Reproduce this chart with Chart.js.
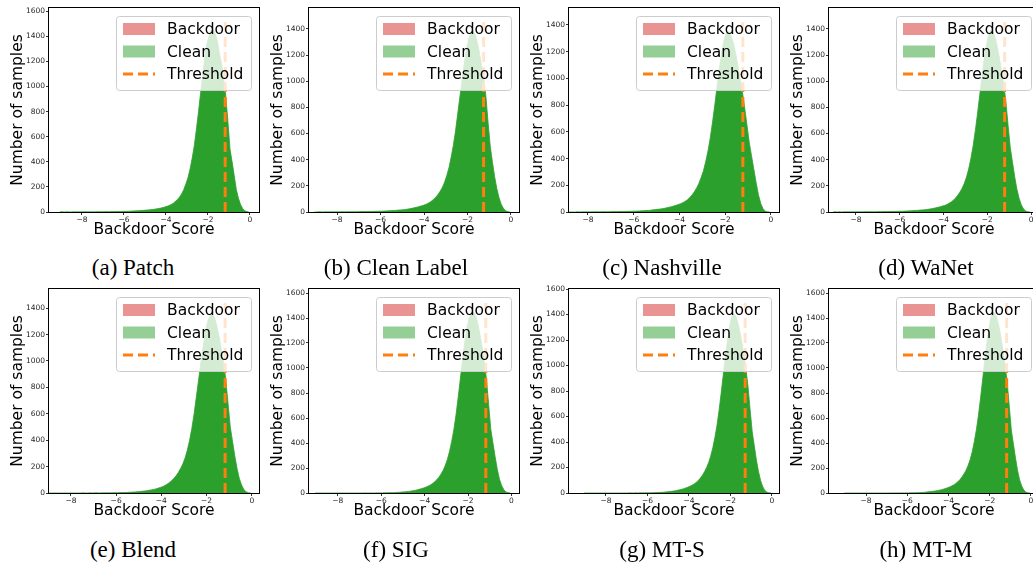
<!DOCTYPE html>
<html lang="en">
<head>
<meta charset="UTF-8">
<title>Backdoor score histograms</title>
<style>
    html, body {
        margin: 0;
        padding: 0;
        background: #ffffff;
        overflow: hidden;
    }
    body {
        width: 1033px;
        height: 568px;
        position: relative;
    }
    .panel {
        position: absolute;
        width: 263px;
        height: 242px;
    }
    .caption {
        position: absolute;
        font-family: 'Liberation Serif', 'Times New Roman', serif;
        font-size: 23px;
        line-height: 23px;
        color: #000;
        white-space: nowrap;
        transform: translateX(-50%);
    }
</style>
</head>
<body>
<div id="figure"></div>

<script src="https://cdn.jsdelivr.net/npm/chart.js"></script>
<script>
// bin centres of the histograms (bin width 0.1)
const binCenters = [
    -9.05, -8.95, -8.85, -8.75, -8.65, -8.55, -8.45, -8.35, -8.25, -8.15,
    -8.05, -7.95, -7.85, -7.75, -7.65, -7.55, -7.45, -7.35, -7.25, -7.15,
    -7.05, -6.95, -6.85, -6.75, -6.65, -6.55, -6.45, -6.35, -6.25, -6.15,
    -6.05, -5.95, -5.85, -5.75, -5.65, -5.55, -5.45, -5.35, -5.25, -5.15,
    -5.05, -4.95, -4.85, -4.75, -4.65, -4.55, -4.45, -4.35, -4.25, -4.15,
    -4.05, -3.95, -3.85, -3.75, -3.65, -3.55, -3.45, -3.35, -3.25, -3.15,
    -3.05, -2.95, -2.85, -2.75, -2.65, -2.55, -2.45, -2.35, -2.25, -2.15,
    -2.05, -1.95, -1.85, -1.75, -1.65, -1.55, -1.45, -1.35, -1.25, -1.15,
    -1.05, -0.95, -0.85, -0.75, -0.65, -0.55, -0.45, -0.35, -0.25, -0.15,
    -0.05
];

// clean sample counts per bin, one list per attack
const patchCounts = [
    1, 1, 0, 1, 1, 0, 1, 1, 1, 1,
    1, 1, 2, 1, 1, 2, 1, 2, 2, 2,
    2, 2, 3, 2, 3, 3, 3, 4, 4, 4,
    5, 5, 6, 6, 7, 8, 9, 10, 11, 12,
    13, 15, 16, 18, 20, 22, 25, 28, 31, 35,
    40, 45, 52, 60, 70, 85, 100, 120, 145, 180,
    225, 275, 345, 430, 530, 660, 800, 950, 1090, 1230,
    1340, 1400, 1445, 1460, 1420, 1360, 1260, 1180, 1060, 920,
    720, 500, 400, 290, 180, 110, 60, 28, 10, 3,
    0
];
const cleanLabelCounts = [
    0, 0, 1, 1, 0, 1, 1, 1, 1, 1,
    1, 1, 1, 2, 1, 2, 2, 2, 2, 2,
    2, 3, 3, 3, 3, 4, 4, 4, 5, 5,
    6, 6, 7, 8, 9, 10, 11, 12, 13, 15,
    16, 18, 20, 22, 25, 28, 32, 36, 40, 45,
    50, 56, 64, 72, 84, 98, 115, 135, 160, 190,
    230, 280, 340, 420, 510, 620, 750, 880, 1010, 1130,
    1240, 1320, 1370, 1390, 1360, 1300, 1220, 1120, 1020, 880,
    680, 500, 380, 270, 180, 110, 60, 28, 10, 3,
    0
];
const nashvilleCounts = [
    0, 0, 0, 0, 0, 0, 1, 0, 1, 1,
    1, 1, 1, 1, 2, 1, 2, 2, 2, 2,
    2, 3, 3, 3, 3, 4, 4, 4, 5, 5,
    6, 6, 7, 8, 9, 10, 11, 12, 14, 16,
    18, 20, 22, 25, 28, 32, 36, 40, 45, 50,
    56, 62, 70, 80, 92, 108, 128, 152, 180, 215,
    260, 310, 380, 460, 560, 680, 810, 950, 1080, 1200,
    1290, 1340, 1350, 1320, 1270, 1190, 1100, 1000, 900, 780,
    650, 520, 420, 320, 220, 130, 65, 25, 6, 1,
    0
];
const wanetCounts = [
    0, 1, 0, 1, 0, 1, 1, 1, 1, 1,
    1, 1, 1, 2, 1, 2, 2, 2, 2, 2,
    2, 3, 2, 3, 3, 3, 4, 4, 4, 5,
    5, 6, 6, 7, 8, 9, 10, 11, 12, 13,
    15, 16, 18, 20, 22, 25, 28, 32, 36, 40,
    45, 50, 57, 66, 77, 90, 107, 128, 152, 182,
    220, 268, 330, 410, 505, 620, 750, 890, 1030, 1160,
    1270, 1350, 1390, 1380, 1340, 1270, 1180, 1080, 980, 840,
    660, 490, 380, 270, 175, 105, 55, 24, 8, 2,
    0
];
const blendCounts = [
    0, 0, 0, 0, 0, 0, 0, 0, 0, 0,
    0, 0, 0, 0, 0, 0, 1, 0, 0, 1,
    0, 1, 1, 0, 1, 1, 1, 1, 1, 2,
    2, 2, 3, 3, 4, 4, 5, 6, 7, 8,
    10, 11, 13, 15, 17, 20, 23, 27, 31, 36,
    42, 48, 56, 66, 78, 92, 110, 130, 155, 185,
    220, 265, 325, 400, 490, 600, 730, 860, 990, 1110,
    1220, 1300, 1340, 1360, 1330, 1270, 1190, 1090, 990, 860,
    680, 500, 390, 280, 185, 110, 60, 26, 9, 2,
    0
];
const sigCounts = [
    0, 0, 0, 0, 0, 0, 0, 0, 0, 0,
    0, 0, 0, 0, 0, 0, 0, 0, 0, 0,
    0, 0, 0, 1, 0, 0, 1, 0, 1, 1,
    1, 1, 2, 2, 2, 3, 3, 4, 5, 6,
    8, 9, 11, 13, 15, 18, 21, 25, 30, 35,
    40, 46, 54, 63, 74, 88, 105, 125, 150, 180,
    220, 270, 335, 415, 510, 630, 770, 920, 1070, 1210,
    1320, 1400, 1440, 1450, 1420, 1360, 1270, 1170, 1050, 910,
    710, 510, 400, 290, 190, 110, 60, 26, 9, 2,
    0
];
const mtsCounts = [
    0, 0, 0, 0, 0, 0, 0, 0, 0, 0,
    0, 0, 0, 0, 0, 0, 0, 0, 0, 0,
    0, 0, 1, 0, 0, 1, 0, 1, 1, 1,
    1, 1, 2, 2, 3, 3, 4, 5, 6, 7,
    9, 11, 13, 15, 18, 21, 25, 29, 34, 40,
    46, 53, 61, 71, 83, 98, 117, 140, 167, 200,
    240, 290, 355, 435, 530, 645, 780, 920, 1060, 1190,
    1300, 1380, 1410, 1390, 1340, 1270, 1180, 1080, 970, 830,
    650, 480, 370, 260, 170, 100, 52, 22, 7, 1,
    0
];
const mtmCounts = [
    0, 0, 0, 0, 0, 0, 0, 0, 0, 0,
    0, 0, 0, 0, 0, 0, 0, 0, 0, 0,
    0, 0, 0, 1, 0, 1, 0, 1, 1, 1,
    1, 1, 2, 2, 2, 3, 3, 4, 5, 6,
    8, 10, 12, 14, 16, 19, 22, 26, 31, 36,
    42, 48, 56, 65, 76, 90, 107, 128, 153, 183,
    220, 268, 330, 410, 505, 620, 755, 900, 1050, 1190,
    1310, 1400, 1450, 1440, 1400, 1330, 1240, 1130, 1020, 880,
    690, 500, 390, 280, 180, 105, 56, 24, 8, 2,
    0
];

const panelCounts = [patchCounts, cleanLabelCounts, nashvilleCounts, wanetCounts,
                     blendCounts, sigCounts, mtsCounts, mtmCounts];
const panelCaptions = ['(a) Patch', '(b) Clean Label', '(c) Nashville', '(d) WaNet',
                       '(e) Blend', '(f) SIG', '(g) MT-S', '(h) MT-M'];
const thresholds = [-1.18, -1.26, -1.23, -1.21, -1.18, -1.18, -1.29, -1.18];
// the dashed threshold segment runs from 0 up to this count
const thresholdTops = [1548, 1486, 1454, 1486, 1471, 1554, 1524, 1554];

// axis limits and ticks
const xMins = [-9.57, -9.29, -8.83, -9.23, -8.97, -9.33, -9.78, -9.80];
const xMaxs = [0.43, 0.37, 0.35, 0.36, 0.32, 0.35, 0.34, 0.39];
const yMaxs = [1625, 1560, 1527, 1560, 1545, 1632, 1600, 1632];
const xTickValues = [-8, -6, -4, -2, 0];
const yTickValues = [0, 200, 400, 600, 800, 1000, 1200, 1400, 1600];

const legendLabels = ['Backdoor', 'Clean', 'Threshold'];
const xTitle = 'Backdoor Score';
const yTitle = 'Number of samples';

// colours
const backdoorPatch = 'rgba(214,39,40,0.5)';
const cleanPatch = 'rgba(44,160,44,0.5)';
const cleanFill = '#2ca02c';
const thresholdColor = '#ff7f0e';

// layout of the 2 x 4 grid
const colLefts = [0, 260, 520, 780];
const rowTops = [0, 281];
const captionCenters = [133, 396, 662, 926];
const captionTops = [256, 538];

const fontSans = "'DejaVu Sans', sans-serif";

function fmtTick(v) {
    return v < 0 ? '\u2212' + Math.abs(v) : String(v);
}

const legendItems = [
    { label: legendLabels[0], kind: 'patch', color: backdoorPatch },
    { label: legendLabels[1], kind: 'patch', color: cleanPatch },
    { label: legendLabels[2], kind: 'dash', color: thresholdColor }
];

// legend drawn inside the plot, over the histogram (like matplotlib "upper right")
const insideLegend = {
    id: 'insideLegend',
    afterDatasetsDraw(chart) {
        const ctx = chart.ctx;
        const area = chart.chartArea;
        const w = 135, h = 74;
        const x = area.right - 8 - w;
        const y = area.top + 8;
        ctx.save();
        ctx.beginPath();
        ctx.roundRect(x + 0.5, y + 0.5, w, h, 3);
        ctx.fillStyle = 'rgba(255,255,255,0.8)';
        ctx.fill();
        ctx.strokeStyle = '#cccccc';
        ctx.lineWidth = 1;
        ctx.stroke();

        legendItems.forEach((item, i) => {
            const cy = y + 13 + i * 22.5;
            if (item.kind === 'dash') {
                ctx.beginPath();
                ctx.setLineDash([10, 5]);
                ctx.strokeStyle = item.color;
                ctx.lineWidth = 3;
                ctx.moveTo(x + 7, cy);
                ctx.lineTo(x + 39, cy);
                ctx.stroke();
                ctx.setLineDash([]);
            } else {
                ctx.fillStyle = item.color;
                ctx.fillRect(x + 7, cy - 6, 32, 12);
            }
            ctx.fillStyle = '#000';
            ctx.font = '15.5px ' + fontSans;
            ctx.textBaseline = 'middle';
            ctx.textAlign = 'left';
            ctx.fillText(item.label, x + 51, cy + 1);
        });
        ctx.restore();
    }
};

// full box of spines
const axesBox = {
    id: 'axesBox',
    afterDraw(chart) {
        const ctx = chart.ctx;
        const a = chart.chartArea;
        ctx.save();
        ctx.strokeStyle = '#000';
        ctx.lineWidth = 1;
        ctx.strokeRect(Math.round(a.left) - 0.5, Math.round(a.top) - 0.5,
                       Math.round(a.right - a.left) + 1, Math.round(a.bottom - a.top) + 1);
        ctx.restore();
    }
};

const figure = document.getElementById('figure');

panelCounts.forEach((counts, p) => {
    const col = p % 4, row = Math.floor(p / 4);

    const holder = document.createElement('div');
    holder.className = 'panel';
    holder.style.left = colLefts[col] + 'px';
    holder.style.top = rowTops[row] + 'px';
    const canvas = document.createElement('canvas');
    canvas.width = 263;
    canvas.height = 242;
    holder.appendChild(canvas);
    figure.appendChild(holder);

    const cap = document.createElement('div');
    cap.className = 'caption';
    cap.textContent = panelCaptions[p];
    cap.style.left = captionCenters[col] + 'px';
    cap.style.top = captionTops[row] + 'px';
    figure.appendChild(cap);

    const yMax = yMaxs[p];

    new Chart(canvas.getContext('2d'), {
        type: 'line',
        data: {
            datasets: [
                {
                    // histogram of clean scores, fine bins drawn as a filled outline
                    label: legendLabels[1],
                    data: binCenters.map((c, i) => ({ x: c, y: counts[i] })),
                    borderColor: cleanFill,
                    backgroundColor: cleanFill,
                    borderWidth: 0.8,
                    fill: 'origin',
                    pointRadius: 0,
                    tension: 0,
                    order: 2
                },
                {
                    label: legendLabels[2],
                    data: [{ x: thresholds[p], y: 0 }, { x: thresholds[p], y: thresholdTops[p] }],
                    borderColor: thresholdColor,
                    borderWidth: 3,
                    borderDash: [10, 5],
                    pointRadius: 0,
                    fill: false,
                    order: 1
                }
            ]
        },
        options: {
            responsive: false,
            animation: false,
            layout: { padding: { left: 0, right: 4, top: 8, bottom: 0 } },
            plugins: {
                legend: { display: false },
                tooltip: { enabled: false }
            },
            scales: {
                x: {
                    type: 'linear',
                    min: xMins[p],
                    max: xMaxs[p],
                    offset: false,
                    afterBuildTicks: s => { s.ticks = xTickValues.map(v => ({ value: v })); },
                    afterFit: s => { s.height = 30; },
                    grid: { display: true, drawOnChartArea: false, drawTicks: true, tickLength: 3,
                            color: '#000', lineWidth: 0.8 },
                    border: { display: false },
                    ticks: {
                        font: { family: fontSans, size: 7.5 },
                        color: '#262626',
                        padding: 1,
                        maxRotation: 0,
                        autoSkip: false,
                        callback: v => fmtTick(v)
                    },
                    title: {
                        display: true,
                        text: xTitle,
                        color: '#000',
                        font: { family: fontSans, size: 15.5, lineHeight: 1 },
                        padding: { top: 0, bottom: 4.5 }
                    }
                },
                y: {
                    type: 'linear',
                    min: 0,
                    max: yMax,
                    afterBuildTicks: s => {
                        s.ticks = yTickValues.filter(v => v <= yMax).map(v => ({ value: v }));
                    },
                    afterFit: s => { s.width = 49; },
                    grid: { display: true, drawOnChartArea: false, drawTicks: true, tickLength: 3,
                            color: '#000', lineWidth: 0.8 },
                    border: { display: false },
                    ticks: {
                        font: { family: fontSans, size: 7.5 },
                        color: '#262626',
                        padding: 1,
                        autoSkip: false,
                        callback: v => fmtTick(v)
                    },
                    title: {
                        display: true,
                        text: yTitle,
                        color: '#000',
                        font: { family: fontSans, size: 15.5, lineHeight: 1 },
                        padding: { top: 10, bottom: 0 }
                    }
                }
            }
        },
        plugins: [insideLegend, axesBox]
    });
});
</script>
</body>
</html>
